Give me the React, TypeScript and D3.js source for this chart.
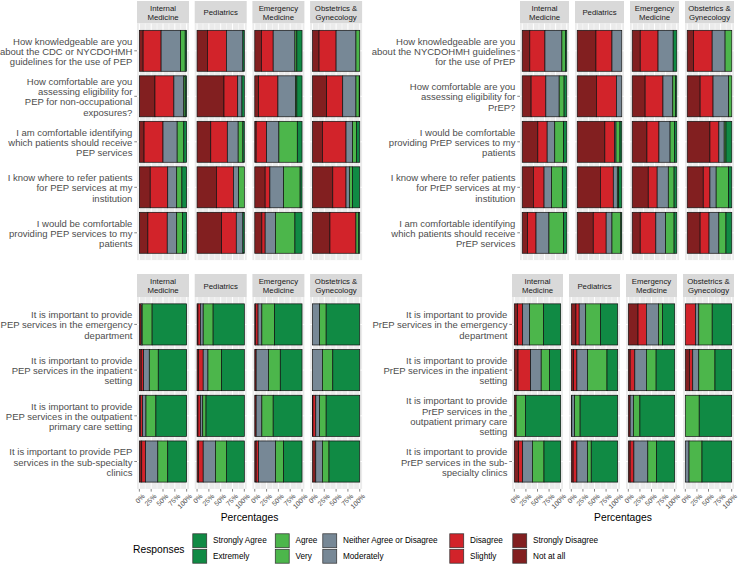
import React from "react";
import * as d3 from "d3";

// ---------- data ----------
const specialties = ["Internal\nMedicine", "Pediatrics", "Emergency\nMedicine", "Obstetrics &\nGynecology"];
// order of stacked segments left -> right
const responseKeys = ["notAtAll", "slightly", "moderately", "very", "extremely"];
const responseColors = ["#821f20", "#d2232a", "#778896", "#4cb64b", "#108a44"];
const legendTopLabels = ["Strongly Agree", "Agree", "Neither Agree or Disagree", "Disagree", "Strongly Disagree"];
const legendBottomLabels = ["Extremely", "Very", "Moderately", "Slightly", "Not at all"];
const legendColors = ["#108a44", "#4cb64b", "#778896", "#d2232a", "#821f20"];
const xTicks = [0, 25, 50, 75, 100];
const xTickLabels = ["0%", "25%", "50%", "75%", "100%"];

const pepKnowQuestions = [
  "How knowledgeable are you\nabout the CDC or NYCDOHMH\nguidelines for the use of PEP",
  "How comfortable are you\nassessing eligibility for\nPEP for non-occupational\nexposures?",
  "I am comfortable identifying\nwhich patients should receive\nPEP services",
  "I know where to refer patients\nfor PEP services at my\ninstitution",
  "I would be comfortable\nproviding PEP services to my\npatients",
];
// [question][specialty][notAtAll, slightly, moderately, very, extremely]
const pepKnowValues = [
  [[8, 38, 41, 10, 3], [22, 40, 35, 0, 3], [14, 25, 46, 4, 11], [14, 36, 42, 8, 0]],
  [[33, 40, 21, 3, 3], [57, 29, 9, 0, 5], [8, 41, 37, 3, 11], [30, 34, 28, 7, 1]],
  [[10, 40, 30, 14, 6], [29, 35, 23, 10, 3], [3, 22, 26, 39, 10], [21, 50, 14, 8, 7]],
  [[23, 37, 19, 11, 10], [41, 36, 11, 12, 0], [22, 10, 29, 35, 4], [43, 28, 7, 7, 15]],
  [[18, 41, 20, 12, 9], [52, 31, 14, 0, 3], [15, 7, 22, 41, 15], [37, 55, 0, 5, 3]],
];

const prepKnowQuestions = [
  "How knowledgeable are you\nabout the NYCDOHMH guidelines\nfor the use of PrEP",
  "How comfortable are you\nassessing eligibility for\nPrEP?",
  "I would be comfortable\nproviding PrEP services to my\npatients",
  "I know where to refer patients\nfor PrEP services at my\ninstitution",
  "I am comfortable identifying\nwhich patients should receive\nPrEP services",
];
const prepKnowValues = [
  [[17, 34, 38, 8, 3], [42, 36, 22, 0, 0], [18, 40, 34, 0, 8], [14, 42, 29, 15, 0]],
  [[20, 33, 30, 11, 6], [43, 45, 12, 0, 0], [29, 40, 22, 6, 3], [29, 29, 35, 7, 0]],
  [[35, 21, 17, 20, 7], [62, 22, 3, 9, 4], [33, 27, 25, 10, 5], [51, 20, 12, 4, 13]],
  [[25, 24, 17, 24, 10], [52, 29, 9, 3, 7], [36, 20, 25, 13, 6], [36, 15, 14, 28, 7]],
  [[12, 19, 29, 33, 7], [36, 29, 13, 20, 2], [18, 35, 22, 19, 6], [29, 20, 22, 16, 13]],
];

const pepImpQuestions = [
  "It is important to provide\nPEP services in the emergency\ndepartment",
  "It is important to provide\nPEP services in the inpatient\nsetting",
  "It is important to provide\nPEP services in the outpatient\nprimary care setting",
  "It is important to provide PEP\nservices in the sub-specialty\nclinics",
];
const pepImpValues = [
  [[4, 0, 2, 21, 73], [2, 5, 6, 21, 66], [2, 5, 8, 27, 58], [0, 0, 15, 14, 71]],
  [[4, 5, 12, 19, 60], [3, 10, 10, 29, 48], [3, 0, 26, 25, 46], [0, 0, 21, 22, 57]],
  [[2, 5, 7, 21, 65], [2, 5, 5, 7, 81], [3, 0, 12, 24, 61], [1, 6, 8, 14, 71]],
  [[5, 8, 26, 21, 40], [3, 10, 26, 23, 38], [3, 5, 36, 17, 39], [7, 0, 14, 14, 65]],
];

const prepImpQuestions = [
  "It is important to provide\nPrEP services in the emergency\ndepartment",
  "It is important to provide\nPrEP services in the inpatient\nsetting",
  "It is important to provide\nPrEP services in the\noutpatient primary care\nsetting",
  "It is important to provide\nPrEP services in the sub-\nspecialty clinics",
];
const prepImpValues = [
  [[7, 11, 15, 30, 37], [10, 7, 14, 32, 37], [21, 18, 26, 9, 26], [0, 22, 7, 29, 42]],
  [[8, 27, 23, 18, 24], [5, 7, 23, 42, 23], [4, 10, 25, 21, 40], [9, 7, 13, 35, 36]],
  [[4, 0, 0, 20, 76], [1, 0, 6, 12, 81], [4, 0, 7, 14, 75], [0, 0, 0, 30, 70]],
  [[9, 9, 21, 25, 36], [4, 8, 23, 8, 57], [4, 8, 30, 19, 39], [0, 0, 8, 28, 64]],
];

// ---------- layout ----------
const FONT = "'Liberation Sans', Arial, Helvetica, sans-serif";
const blocks = [
  { questions: pepKnowQuestions, values: pepKnowValues, x0: 137, pw: 52, pitch: 57.7, top: 1, stripH: 22.5, step: 45.5, showX: false },
  { questions: prepKnowQuestions, values: prepKnowValues, x0: 520, pw: 49, pitch: 55, top: 1, stripH: 22.5, step: 45.5, showX: false },
  { questions: pepImpQuestions, values: pepImpValues, x0: 137, pw: 52, pitch: 57.7, top: 274, stripH: 23, step: 45.7, showX: true },
  { questions: prepImpQuestions, values: prepImpValues, x0: 512, pw: 51, pitch: 57, top: 274, stripH: 23, step: 45.7, showX: true },
];

function Block({ b, bi }: { b: any; bi: number }) {
  const panelTop = b.top + b.stripH;
  const n = b.questions.length;
  const panelH = b.step * (n + 0.2);
  const y = d3
    .scaleBand<number>()
    .domain(d3.range(n))
    .range([panelTop, panelTop + panelH])
    .paddingInner(0.1)
    .paddingOuter(0.15);
  const els: React.ReactNode[] = [];
  const lineH = 10.3;

  // y axis labels + ticks
  b.questions.forEach((q: string, qi: number) => {
    const cy = (y(qi) as number) + y.bandwidth() / 2;
    const lines = q.split("\n");
    const startY = cy - ((lines.length - 1) * lineH) / 2;
    els.push(
      <text key={`yl${bi}-${qi}`} x={b.x0 - 4.6} y={startY} textAnchor="end" dominantBaseline="central" fontSize={9.5} fill="#4d4d4d" fontFamily={FONT}>
        {lines.map((l, li) => (
          <tspan key={li} x={b.x0 - 4.6} y={startY + li * lineH}>{l}</tspan>
        ))}
      </text>
    );
    els.push(<line key={`yt${bi}-${qi}`} x1={b.x0 - 2.7} x2={b.x0} y1={cy} y2={cy} stroke="#333" strokeWidth={0.6} />);
  });

  specialties.forEach((sp, si) => {
    const px = b.x0 + si * b.pitch;
    const x = d3.scaleLinear().domain([-5, 105]).range([px, px + b.pw]);
    // strip
    els.push(<rect key={`sr${bi}-${si}`} x={px} y={b.top} width={b.pw} height={b.stripH} fill="#d9d9d9" />);
    const sl = sp.split("\n");
    const sLineH = 8.6;
    const sY = b.top + b.stripH / 2 - ((sl.length - 1) * sLineH) / 2;
    els.push(
      <text key={`st${bi}-${si}`} textAnchor="middle" dominantBaseline="central" fontSize={7.8} fill="#1a1a1a" fontFamily={FONT}>
        {sl.map((l, li) => (
          <tspan key={li} x={px + b.pw / 2} y={sY + li * sLineH}>{l}</tspan>
        ))}
      </text>
    );
    // panel bg
    els.push(<rect key={`pb${bi}-${si}`} x={px} y={panelTop} width={b.pw} height={panelH} fill="#ebebeb" />);
    // minor grid
    [12.5, 37.5, 62.5, 87.5].forEach((t) =>
      els.push(<line key={`gm${bi}-${si}-${t}`} x1={x(t)} x2={x(t)} y1={panelTop} y2={panelTop + panelH} stroke="#fff" strokeWidth={0.5} />)
    );
    xTicks.forEach((t) =>
      els.push(<line key={`gM${bi}-${si}-${t}`} x1={x(t)} x2={x(t)} y1={panelTop} y2={panelTop + panelH} stroke="#fff" strokeWidth={1} />)
    );
    b.questions.forEach((_q: string, qi: number) => {
      const cy = (y(qi) as number) + y.bandwidth() / 2;
      els.push(<line key={`gy${bi}-${si}-${qi}`} x1={px} x2={px + b.pw} y1={cy} y2={cy} stroke="#fff" strokeWidth={1} />);
    });
    // bars
    b.values.forEach((row: number[][], qi: number) => {
      const vals = row[si];
      const total = d3.sum(vals);
      const cum = Array.from(d3.cumsum(vals));
      vals.forEach((v, k) => {
        if (v <= 0) return;
        const x1 = x(((cum[k] - v) / total) * 100);
        const x2 = x((cum[k] / total) * 100);
        els.push(
          <rect
            key={`b${bi}-${si}-${qi}-${k}`}
            x={x1}
            y={y(qi)}
            width={x2 - x1}
            height={y.bandwidth()}
            fill={responseColors[k]}
            stroke="#111"
            strokeWidth={0.7}
            data-key={responseKeys[k]}
          />
        );
      });
    });
    // x axis
    if (b.showX) {
      const by = panelTop + panelH;
      xTicks.forEach((t, ti) => {
        els.push(<line key={`xt${bi}-${si}-${t}`} x1={x(t)} x2={x(t)} y1={by} y2={by + 2.7} stroke="#333" strokeWidth={0.6} />);
        els.push(
          <text
            key={`xl${bi}-${si}-${t}`}
            transform={`translate(${x(t) + 2.5},${by + 4.5}) rotate(-45)`}
            textAnchor="end"
            dominantBaseline="hanging"
            fontSize={6.8}
            fill="#4d4d4d"
            fontFamily={FONT}
          >
            {xTickLabels[ti]}
          </text>
        );
      });
    }
  });

  if (b.showX) {
    const left = b.x0;
    const right = b.x0 + 3 * b.pitch + b.pw;
    els.push(
      <text key={`xtitle${bi}`} x={(left + right) / 2} y={517} textAnchor="middle" dominantBaseline="central" fontSize={10.3} fill="#000" fontFamily={FONT}>
        Percentages
      </text>
    );
  }
  return <g>{els}</g>;
}

function Legend() {
  const keyX = [192, 274.5, 322, 449, 512];
  const rowsY = [533, 548.5];
  const ks = 15.5;
  const els: React.ReactNode[] = [];
  els.push(
    <text key="lt" x={133} y={549} dominantBaseline="central" fontSize={10.3} fill="#000" fontFamily={FONT}>
      Responses
    </text>
  );
  legendColors.forEach((c, i) => {
    [legendTopLabels[i], legendBottomLabels[i]].forEach((lab, r) => {
      els.push(<rect key={`kb${i}-${r}`} x={keyX[i]} y={rowsY[r]} width={ks} height={ks} fill="#f2f2f2" />);
      els.push(<rect key={`k${i}-${r}`} x={keyX[i] + 0.8} y={rowsY[r] + 0.8} width={ks - 1.6} height={ks - 1.6} fill={c} stroke="#333" strokeWidth={0.7} />);
      els.push(
        <text key={`kl${i}-${r}`} x={keyX[i] + ks + 5.5} y={rowsY[r] + ks / 2} dominantBaseline="central" fontSize={8.2} fill="#000" fontFamily={FONT}>
          {lab}
        </text>
      );
    });
  });
  return <g>{els}</g>;
}

export default function App() {
  return (
    <svg width={741} height={566} style={{ position: "absolute", left: 0, top: 0, background: "#fff" }}>
      <rect x={0} y={0} width={741} height={566} fill="#fff" />
      {blocks.map((b, i) => (
        <Block key={i} b={b} bi={i} />
      ))}
      <Legend />
    </svg>
  );
}
